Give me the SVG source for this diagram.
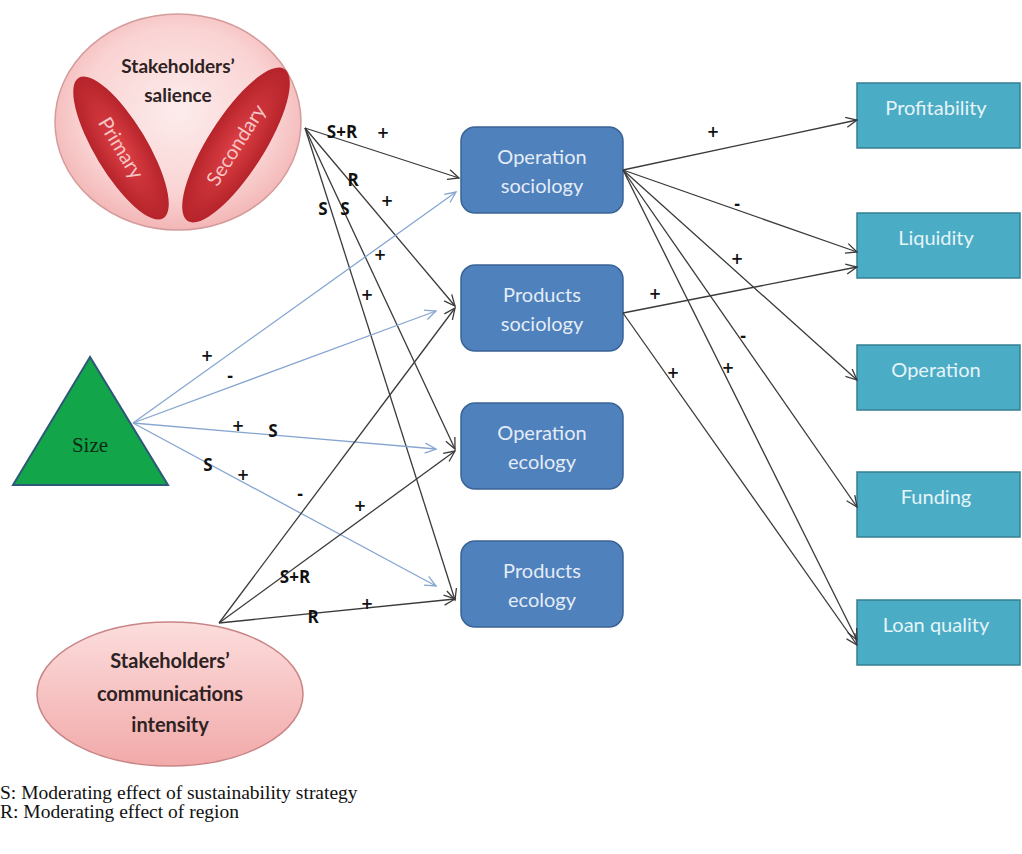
<svg xmlns="http://www.w3.org/2000/svg" width="1022" height="854" viewBox="0 0 1022 854">
  <defs>
    <radialGradient id="pinkCircle" cx="50%" cy="45%" r="55%">
      <stop offset="0" stop-color="#FDECEC"/>
      <stop offset="0.7" stop-color="#FAD3D3"/>
      <stop offset="1" stop-color="#F3B6B6"/>
    </radialGradient>
    <linearGradient id="pinkOval" x1="0" y1="0" x2="0" y2="1">
      <stop offset="0" stop-color="#FCDDDD"/>
      <stop offset="1" stop-color="#F2A9A9"/>
    </linearGradient>
    <radialGradient id="redOval" cx="50%" cy="50%" r="60%">
      <stop offset="0" stop-color="#DE4146"/>
      <stop offset="1" stop-color="#AE1E25"/>
    </radialGradient>
    <marker id="arrBlack" markerUnits="userSpaceOnUse" markerWidth="14" markerHeight="12" refX="11" refY="5" orient="auto" overflow="visible">
      <path d="M0,0 L11,5 L0,10" fill="none" stroke="#3A3A3A" stroke-width="1.3"/>
    </marker>
    <marker id="arrBlue" markerUnits="userSpaceOnUse" markerWidth="14" markerHeight="12" refX="11" refY="5" orient="auto" overflow="visible">
      <path d="M0,0 L11,5 L0,10" fill="none" stroke="#86A6D0" stroke-width="1.3"/>
    </marker>
    <style>
      .dark { stroke: #3A3A3A; stroke-width: 1.3; fill: none; marker-end: url(#arrBlack); }
      .blue { stroke: #86A6D0; stroke-width: 1.3; fill: none; marker-end: url(#arrBlue); }
      .sign { font-family: "Open Sans", "Liberation Sans", sans-serif; font-weight: bold; font-size: 17px; fill: #111111; text-anchor: middle; }
      .op { font-family: "DejaVu Sans", "Liberation Sans", sans-serif; font-weight: bold; font-size: 15px; fill: #111111; text-anchor: middle; }
      .midbox { fill: #4F81BD; stroke: #3A6396; stroke-width: 1.5; }
      .outbox { fill: #4BACC6; stroke: #357F93; stroke-width: 1.5; }
      .boxtxt { font-family: Lato, "Open Sans", sans-serif; font-size: 20px; fill: #E4ECF6; text-anchor: middle; }
      .outtxt { font-family: Lato, "Open Sans", sans-serif; font-size: 20px; fill: #E6F4F8; text-anchor: middle; }
      .pinktxt { font-family: Lato, "Liberation Sans", sans-serif; font-weight: bold; font-size: 19px; fill: #2E2222; text-anchor: middle; }
      .redtxt { font-family: Lato, "Liberation Sans", sans-serif; font-size: 20px; fill: #F6C6C6; text-anchor: middle; }
      .legend { font-family: "Liberation Serif", "Times New Roman", serif; font-size: 19.5px; fill: #111111; }
    </style>
  </defs>

  <rect width="1022" height="854" fill="#FFFFFF"/>

  <!-- Stakeholders' salience -->
  <g id="salience">
    <ellipse cx="178" cy="122" rx="123" ry="108" fill="url(#pinkCircle)" stroke="#D49B9B" stroke-width="1.5"/>
    <ellipse cx="121" cy="148" rx="82" ry="26" transform="rotate(59 121 148)" fill="url(#redOval)"/>
    <ellipse cx="236" cy="145" rx="90" ry="28" transform="rotate(-57.5 236 145)" fill="url(#redOval)"/>
    <text class="pinktxt" x="178" y="73">Stakeholders’</text>
    <text class="pinktxt" x="178" y="102">salience</text>
    <text class="redtxt" x="121" y="155" transform="rotate(59 121 148)">Primary</text>
    <text class="redtxt" x="236" y="152" transform="rotate(-57.5 236 145)">Secondary</text>
  </g>

  <!-- Size -->
  <g id="size">
    <polygon points="90,357 13,485 168,485" fill="#12A54A" stroke="#2D5878" stroke-width="2"/>
    <text x="90" y="452" font-family="Liberation Serif, Times New Roman, serif" font-size="21" fill="#0D2A15" text-anchor="middle">Size</text>
  </g>

  <!-- Stakeholders' communications intensity -->
  <g id="communications">
    <ellipse cx="170" cy="694" rx="133" ry="72" fill="url(#pinkOval)" stroke="#C98585" stroke-width="1.5"/>
    <text class="pinktxt" x="170" y="668" style="font-size:20px">Stakeholders’</text>
    <text class="pinktxt" x="170" y="701" style="font-size:20px">communications</text>
    <text class="pinktxt" x="170" y="732" style="font-size:20px">intensity</text>
  </g>

  <!-- Sustainability dimensions -->
  <g id="operation-sociology">
    <rect class="midbox" x="461" y="127" width="162" height="86" rx="14"/>
    <text class="boxtxt" x="542" y="164">Operation</text>
    <text class="boxtxt" x="542" y="193">sociology</text>
  </g>
  <g id="products-sociology">
    <rect class="midbox" x="461" y="265" width="162" height="86" rx="14"/>
    <text class="boxtxt" x="542" y="302">Products</text>
    <text class="boxtxt" x="542" y="331">sociology</text>
  </g>
  <g id="operation-ecology">
    <rect class="midbox" x="461" y="403" width="162" height="86" rx="14"/>
    <text class="boxtxt" x="542" y="440">Operation</text>
    <text class="boxtxt" x="542" y="469">ecology</text>
  </g>
  <g id="products-ecology">
    <rect class="midbox" x="461" y="541" width="162" height="86" rx="14"/>
    <text class="boxtxt" x="542" y="578">Products</text>
    <text class="boxtxt" x="542" y="607">ecology</text>
  </g>

  <!-- Financial performance -->
  <g id="profitability">
    <rect class="outbox" x="857" y="83" width="163" height="65"/>
    <text class="outtxt" x="936" y="115">Profitability</text>
  </g>
  <g id="liquidity">
    <rect class="outbox" x="857" y="213" width="163" height="65"/>
    <text class="outtxt" x="936" y="245">Liquidity</text>
  </g>
  <g id="operation">
    <rect class="outbox" x="857" y="345" width="163" height="65"/>
    <text class="outtxt" x="936" y="377">Operation</text>
  </g>
  <g id="funding">
    <rect class="outbox" x="857" y="472" width="163" height="65"/>
    <text class="outtxt" x="936" y="504">Funding</text>
  </g>
  <g id="loan-quality">
    <rect class="outbox" x="857" y="600" width="163" height="65"/>
    <text class="outtxt" x="936" y="632">Loan quality</text>
  </g>

  <!-- Connectors -->
  <g id="connectors">
    <!-- from salience -->
    <line class="dark" x1="305" y1="128" x2="459" y2="178"/>
    <line class="dark" x1="305" y1="128" x2="455" y2="306"/>
    <line class="dark" x1="305" y1="128" x2="455" y2="449"/>
    <line class="dark" x1="305" y1="128" x2="455" y2="600"/>
    <!-- from size -->
    <line class="blue" x1="133" y1="423" x2="456" y2="192"/>
    <line class="blue" x1="133" y1="423" x2="436" y2="311"/>
    <line class="blue" x1="133" y1="423" x2="436" y2="449"/>
    <line class="blue" x1="133" y1="423" x2="436" y2="586"/>
    <!-- from communications intensity -->
    <line class="dark" x1="219" y1="623" x2="455" y2="308"/>
    <line class="dark" x1="219" y1="623" x2="455" y2="451"/>
    <line class="dark" x1="219" y1="623" x2="455" y2="599"/>
    <!-- from operation sociology -->
    <line class="dark" x1="623" y1="170" x2="857" y2="120"/>
    <line class="dark" x1="623" y1="170" x2="857" y2="252"/>
    <line class="dark" x1="623" y1="170" x2="857" y2="380"/>
    <line class="dark" x1="623" y1="170" x2="857" y2="507"/>
    <line class="dark" x1="623" y1="170" x2="857" y2="640"/>
    <!-- from products sociology -->
    <line class="dark" x1="623" y1="313" x2="857" y2="267"/>
    <line class="dark" x1="623" y1="313" x2="857" y2="645"/>

    <!-- moderators -->
    <text class="sign" x="342" y="138">S+R</text>
    <text class="sign" x="353" y="186">R</text>
    <text class="sign" x="323" y="215">S</text>
    <text class="sign" x="345" y="215">S</text>
    <text class="sign" x="273" y="437">S</text>
    <text class="sign" x="208" y="471">S</text>
    <text class="sign" x="295" y="583">S+R</text>
    <text class="sign" x="313" y="623">R</text>

    <!-- effect signs -->
    <text class="op" x="383" y="138">+</text>
    <text class="op" x="387" y="206">+</text>
    <text class="op" x="380" y="260">+</text>
    <text class="op" x="367" y="300">+</text>

    <text class="op" x="207" y="361">+</text>
    <text class="op" x="230" y="381">-</text>
    <text class="op" x="238" y="431">+</text>
    <text class="op" x="243" y="480">+</text>

    <text class="op" x="300" y="499">-</text>
    <text class="op" x="360" y="511">+</text>
    <text class="op" x="367" y="609">+</text>

    <text class="op" x="713" y="137">+</text>
    <text class="op" x="737" y="209">-</text>
    <text class="op" x="737" y="264">+</text>
    <text class="op" x="655" y="299">+</text>
    <text class="op" x="743" y="341">-</text>
    <text class="op" x="728" y="373">+</text>
    <text class="op" x="673" y="378">+</text>
  </g>

  <!-- Legend -->
  <g id="legend">
    <text class="legend" x="0" y="799">S: Moderating effect of sustainability strategy</text>
    <text class="legend" x="0" y="818">R: Moderating effect of region</text>
  </g>
</svg>
